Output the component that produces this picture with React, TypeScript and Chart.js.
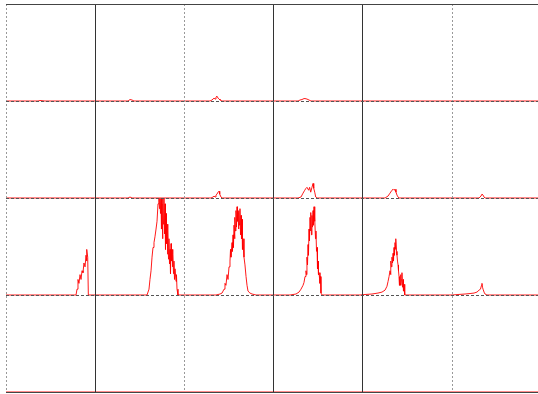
import React, { useEffect, useRef } from "react";
import { Chart, registerables } from "chart.js";

Chart.register(...registerables);

// x in data units (one grid column = 10), heights in % of a row (row = 100)
const xMax = 59.64;
const xTickStep = 10;
const yTickStep = 100;
const solidColumns = [10, 30, 40];

// Row 1 (top band)
const row1X = [0, 3.59, 3.81, 4.37, 13.68, 13.9, 14.13, 14.35, 22.87, 23.09, 23.21, 23.32, 23.43, 23.54, 23.65, 23.77, 23.88, 23.99, 24.22, 32.74, 32.96, 33.18, 33.41, 33.52, 33.74, 33.97, 34.19, 59.64];
const row1H = [0, 0, 0.5, 0, 0, 1.5, 1, 0, 0, 1, 2, 3, 2, 4, 5, 3, 2, 1, 0, 0, 1, 1.5, 2.5, 2.5, 2, 1, 0, 0];

// Row 2
const row2X = [0, 13.68, 13.9, 14.13, 22.98, 23.21, 23.32, 23.43, 23.54, 23.65, 23.77, 23.88, 23.93, 23.99, 24.1, 24.22, 32.74, 33.07, 33.3, 33.49, 33.63, 33.74, 33.93, 34.04, 34.16, 34.3, 34.42, 34.5, 34.61, 34.72, 34.87, 42.49, 42.83, 43.05, 43.27, 43.39, 43.5, 43.61, 43.72, 43.83, 43.95, 44.06, 53.03, 53.25, 53.36, 53.48, 53.59, 53.7, 59.64];
const row2H = [0, 0, 1, 0, 0, 1, 2, 1, 3, 4, 6, 7, 5, 4, 1, 0, 0, 1, 5, 8, 10, 11, 8, 11, 6, 11, 15, 10, 6, 1, 0, 0, 2, 5, 8, 9, 8, 9, 6, 3, 1, 0, 0, 2, 4, 3, 1, 0, 0];

// Row 3 (main band)
const row3X = [
  0, 7.85, 7.96, 8.07, 8.18, 8.3, 8.41, 8.52, 8.63, 8.74, 8.86, 8.97, 9.02, 9.08, 9.16, 9.23,
  15.81, 16.03, 16.14, 16.26, 16.37, 16.48, 16.59, 16.7, 16.82, 16.93, 17.04, 17.15, 17.21, 17.26, 17.32, 17.38, 17.43, 17.49, 17.54, 17.6, 17.66, 17.71, 17.77, 17.83, 17.88, 17.94, 17.99, 18.05, 18.11, 18.16, 18.22, 18.27, 18.33, 18.39, 18.44, 18.5, 18.55, 18.61, 18.67, 18.72, 18.78, 18.83, 18.89, 18.95, 19.06, 19.11, 19.17, 19.28,
  23.54, 23.99, 24.22, 24.44, 24.55, 24.66, 24.78, 24.89, 25.0, 25.11, 25.17, 25.22, 25.34, 25.39, 25.45, 25.5, 25.56, 25.62, 25.67, 25.73, 25.78, 25.84, 25.9, 25.95, 26.01, 26.06, 26.12, 26.18, 26.23, 26.29, 26.35, 26.4, 26.46, 26.51, 26.57, 26.68, 26.79, 26.91, 27.02, 27.13, 27.35, 27.58, 28.03,
  31.84, 32.51, 32.85, 33.07, 33.3, 33.41, 33.52, 33.63, 33.69, 33.74, 33.8, 33.86, 33.91, 33.97, 34.02, 34.08, 34.14, 34.19, 34.25, 34.3, 34.36, 34.42, 34.47, 34.53, 34.58, 34.64, 34.7, 34.75, 34.81, 34.87, 34.92, 34.98, 35.03, 35.09, 35.2, 35.26, 35.31, 35.43,
  39.69, 40.25, 41.03, 41.7, 42.15, 42.49, 42.71, 42.83, 42.94, 43.05, 43.11, 43.16, 43.22, 43.27, 43.33, 43.39, 43.44, 43.5, 43.55, 43.61, 43.67, 43.72, 43.78, 43.83, 43.89, 43.95, 44.0, 44.06, 44.11, 44.17, 44.23, 44.28, 44.34, 44.39, 44.45, 44.51, 44.56, 44.62, 44.7,
  50.0, 50.67, 51.46, 52.02, 52.47, 52.8, 53.03, 53.19, 53.31, 53.36, 53.42, 53.48, 53.59, 53.7, 53.92, 59.64,
];
const row3H = [
  0, 0, 6, 16, 12, 21, 16, 25, 23, 33, 29, 41, 35, 47, 39, 0,
  0, 6, 16, 25, 39, 49, 54, 60, 68, 76, 94, 99, 89, 100, 84, 99, 68, 94, 58, 99, 73, 100, 63, 94, 47, 84, 53, 73, 42, 66, 37, 58, 32, 47, 22, 53, 35, 47, 29, 42, 22, 35, 16, 27, 14, 21, 6, 0,
  0, 1, 2, 6, 12, 10, 21, 16, 29, 35, 47, 39, 54, 45, 62, 49, 72, 58, 80, 66, 87, 70, 91, 76, 85, 68, 87, 72, 89, 62, 82, 58, 78, 47, 58, 39, 31, 19, 10, 4, 2, 1, 0,
  0, 1, 3, 6, 10, 13, 19, 25, 21, 39, 31, 52, 41, 68, 56, 80, 66, 85, 62, 82, 70, 87, 72, 91, 76, 78, 58, 66, 45, 49, 27, 35, 21, 23, 12, 19, 2, 0,
  0, 0.5, 1, 2, 3, 5, 9, 14, 19, 25, 21, 35, 29, 39, 33, 43, 35, 49, 41, 54, 47, 58, 45, 41, 35, 31, 25, 19, 10, 12, 21, 10, 16, 23, 8, 16, 4, 11, 0,
  0, 0.5, 1, 1.5, 2, 3, 5, 6, 10, 12, 8, 6, 3, 1, 0, 0,
];

// Row 4 (bottom band, empty)
const row4X = [0, 59.64];
const row4H = [0, 0];

const rows = [
  { xs: row1X, hs: row1H, base: 300 },
  { xs: row2X, hs: row2H, base: 200 },
  { xs: row3X, hs: row3H, base: 100 },
  { xs: row4X, hs: row4H, base: 0 },
];

export default function App() {
  const ref = useRef<HTMLCanvasElement | null>(null);
  useEffect(() => {
    document.body.style.margin = "0";
    if (!ref.current) return;
    const chart = new Chart(ref.current, {
      type: "line",
      data: {
        datasets: rows.map((r) => ({
          data: r.xs.map((x, i) => ({ x, y: r.base + r.hs[i] })),
          borderColor: "rgba(255,0,0,0.9)",
          borderWidth: 1,
          pointRadius: 0,
          fill: false,
          tension: 0,
        })),
      },
      options: {
        animation: false,
        responsive: false,
        events: [],
        layout: { padding: { left: 6, top: 4, right: 0, bottom: 2 } },
        plugins: { legend: { display: false }, tooltip: { enabled: false } },
        scales: {
          x: {
            type: "linear",
            min: 0,
            max: xMax,
            ticks: { stepSize: xTickStep, display: false },
            grid: {
              drawTicks: false,
              z: 1,
              color: (c: any) => (solidColumns.includes(c.tick?.value) ? "#333" : "#999"),
            },
            border: {
              display: false,
              dash: (c: any) => (solidColumns.includes(c.tick?.value) ? [] : [2, 2]),
            },
          },
          y: {
            type: "linear",
            min: 0,
            max: 400,
            ticks: { stepSize: yTickStep, display: false },
            grid: {
              drawTicks: false,
              z: 1,
              color: (c: any) => (c.tick?.value === 400 || c.tick?.value === 0 ? "#444" : "#555"),
            },
            border: {
              display: false,
              dash: (c: any) => (c.tick?.value === 400 || c.tick?.value === 0 ? [] : [3, 2]),
            },
          },
        },
      },
    });
    return () => chart.destroy();
  }, []);
  return <canvas ref={ref} width={538} height={394} style={{ display: "block" }} />;
}
